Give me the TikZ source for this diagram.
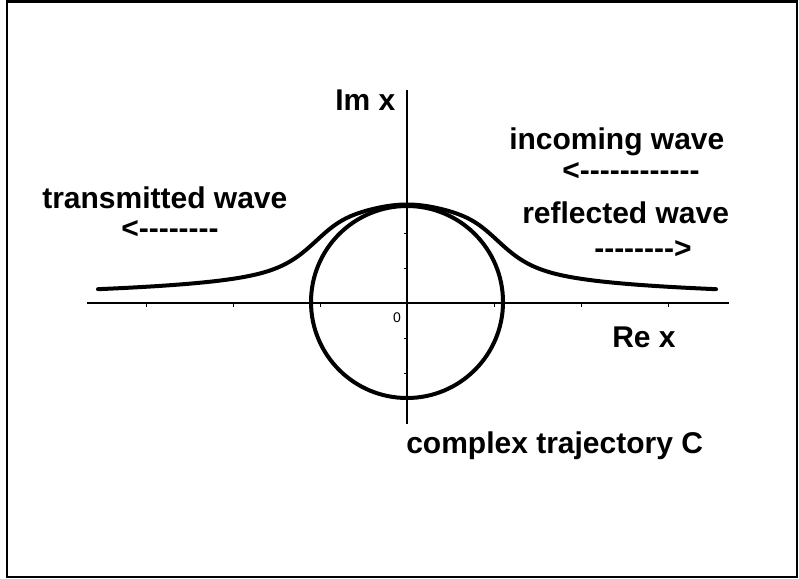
\documentclass[tikz,border=0pt]{standalone}
\usepackage{fontspec}
\newfontfamily\lab{Liberation Sans}[Ligatures=TeXOff]
\begin{document}
\begin{tikzpicture}[x=0.75pt,y=-0.75pt,
  lbl/.style={font=\lab\bfseries\fontsize{22.5}{26}\selectfont, inner sep=0pt, anchor=base west},
  small/.style={font=\lab\fontsize{10.5}{12}\selectfont, inner sep=0pt},
  axisline/.style={line width=0.8pt},
  tickline/.style={line width=0.6pt},
  heavy/.style={line width=3pt, line cap=round}]
\useasboundingbox (0,0) rectangle (799,578);
\draw[line width=1.5pt] (7,1.5) rectangle (797,576.5);
% axes
\coordinate (xl) at (87,303);
\coordinate (xr) at (729,303);
\coordinate (yt) at (407,90);
\coordinate (yb) at (407,424);
\draw[axisline] (xl) -- (xr);
\draw[axisline] (yt) -- (yb);
\foreach \x in {146,233,320,494,581,668} \draw[tickline] (\x,303) -- (\x,306.5);
\foreach \y in {233,268,338,373} \draw[tickline] (407,\y) -- (403.5,\y);
% circle
\draw[heavy] (407,302) circle [radius=96];
% bell curve
\draw[heavy] plot[domain=-309:309, samples=241, smooth]
  ({407+\x}, {303 - (55/sqrt(1+(\x/80)*(\x/80)) + 43.5/(1+((\x/96.7)*(\x/96.7))^3))});
% labels
\node[lbl] (im) at (335,110) {Im x};
\node[lbl] (tw) at (42,208) {transmitted wave};
\node[lbl] (twa) at (121,238) {<--------};
\node[lbl] (iw) at (509,149) {incoming wave};
\node[lbl] (iwa) at (562,180) {<------------};
\node[lbl] (rw) at (522,223) {reflected wave};
\node[lbl] (rwa) at (594,258) {-------->};
\node[lbl] (re) at (612,347) {Re x};
\node[lbl] (ct) at (406,453) {complex trajectory C};
\node[small] (zero) at (397,318) {0};
\end{tikzpicture}
\end{document}
